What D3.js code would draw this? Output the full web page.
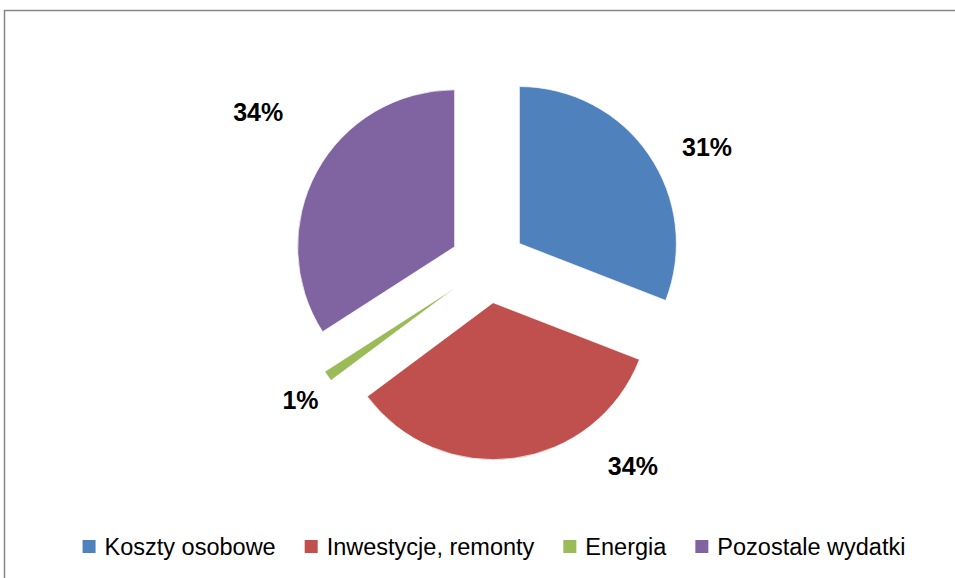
<!DOCTYPE html>
<html>
<head>
<meta charset="utf-8">
<script src="https://cdn.jsdelivr.net/npm/d3@7"></script>
<style>
  body { margin: 0; background: #fff; }
  svg { display: block; }
</style>
</head>
<body>
<script>
const categories = ["Koszty osobowe", "Inwestycje, remonty", "Energia", "Pozostale wydatki"]
const values = [30.9, 33.9, 1.1, 34.1]
const colors = ["#4F81BD", "#C0504D", "#9BBB59", "#8064A2"]

const width = 955, height = 578
const cx = 488, cy = 265
const radius = 157
const explode = 38

// label placement tweaks (angle shift in degrees, distance from centre)
const labelShift = [[6, 249], [-28, 248], [-1, 231], [5, 276]]

const svg = d3.select("body").append("svg")
    .attr("width", width)
    .attr("height", height)

// outer chart frame (runs off the right / bottom edges)
svg.append("rect")
    .attr("x", 4.5).attr("y", 10.5)
    .attr("width", 1000).attr("height", 600)
    .attr("fill", "#fff")
    .attr("stroke", "#868686")
    .attr("stroke-width", 1.5)

const total = d3.sum(values)
const pct = d3.format(".0%")

const pie = d3.pie().sort(null).value(d => d)
const arcs = pie(values)

const arc = d3.arc().innerRadius(0).outerRadius(radius)

const g = svg.append("g").attr("transform", `translate(${cx},${cy})`)

g.selectAll("path.slice")
    .data(arcs)
    .enter()
    .append("path")
    .attr("class", "slice")
    .attr("fill", (d, i) => colors[i])
    .attr("stroke", "#fff")
    .attr("stroke-width", 0.7)
    .attr("transform", d => {
        let a = (d.startAngle + d.endAngle) / 2
        return `translate(${Math.sin(a) * explode},${-Math.cos(a) * explode})`
    })
    .attr("d", arc)

g.selectAll("text.lbl")
    .data(arcs)
    .enter()
    .append("text")
    .attr("class", "lbl")
    .attr("x", (d, i) => {
        let a = (d.startAngle + d.endAngle) / 2 + labelShift[i][0] * Math.PI / 180
        return Math.sin(a) * labelShift[i][1]
    })
    .attr("y", (d, i) => {
        let a = (d.startAngle + d.endAngle) / 2 + labelShift[i][0] * Math.PI / 180
        return -Math.cos(a) * labelShift[i][1]
    })
    .attr("dy", "0.36em")
    .attr("text-anchor", "middle")
    .attr("font-family", "'Liberation Sans', Arial, sans-serif")
    .attr("font-weight", "bold")
    .attr("font-size", 25)
    .attr("fill", "#000")
    .text(d => pct(d.data / total))

// ================= LEGEND ====================
const legend = svg.append("g")
const box = 13, boxGap = 9, itemGap = 29
let x = 0
categories.forEach((c, i) => {
    let item = legend.append("g").attr("transform", `translate(${x},0)`)
    item.append("rect")
        .attr("x", 0).attr("y", -15)
        .attr("width", box).attr("height", box)
        .attr("fill", colors[i])
    let t = item.append("text")
        .attr("x", box + boxGap)
        .attr("y", 0)
        .attr("font-family", "'Liberation Sans', Arial, sans-serif")
        .attr("font-size", 23.5)
        .attr("fill", "#000")
        .text(c)
    x += box + boxGap + t.node().getComputedTextLength() + itemGap
})
x -= itemGap
legend.attr("transform", `translate(${494 - x / 2},555)`)
</script>
</body>
</html>
